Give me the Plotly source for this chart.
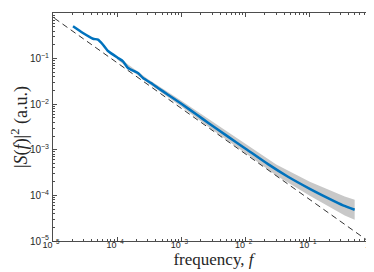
import plotly.graph_objects as go

# Mean power spectrum (blue)
freq = [2.05e-5, 2.93e-5, 4.20e-5, 5.02e-5, 6.01e-5, 7.19e-5, 1.03e-4, 1.231e-4,
        1.473e-4, 2.108e-4, 2.523e-4, 3.36e-4, 4.32e-4, 6.18e-4, 1.0e-3, 1.814e-3,
        2.596e-3, 5.32e-3, 1.0e-2, 2.233e-2, 4.575e-2, 0.1, 0.192, 0.329, 0.5]
power = [0.511, 0.364, 0.273, 0.260, 0.2017, 0.1468, 0.1031, 0.0873,
         0.0622, 0.0483, 0.0375, 0.0292, 0.02266, 0.01615, 0.01023, 5.64e-3,
         3.94e-3, 1.945e-3, 1.059e-3, 4.85e-4, 2.57e-4, 1.396e-4, 8.74e-5, 6.07e-5, 4.85e-5]

# Spread of individual spectra (gray band)
band_f = [1e-4, 3e-4, 1e-3, 3e-3, 1e-2, 3e-2, 0.1, 0.2, 0.35, 0.5]
band_hi = [0.1112, 0.0357, 0.01191, 4.18e-3, 1.33e-3, 4.78e-4, 1.99e-4, 1.303e-4, 9.42e-5, 8.04e-5]
band_lo = [0.0955, 0.0291, 8.79e-3, 2.79e-3, 8.43e-4, 2.74e-4, 9.79e-5, 5.53e-5, 3.61e-5, 2.93e-5]

# 1/f reference line (dashed)
ref_f = [1.05e-5, 0.81]
ref_S = [0.77, 1.0e-5]

tick_vals = [1e-5, 1e-4, 1e-3, 1e-2, 1e-1, 1e0]
tick_text = ["10<sup>\u22125</sup>", "10<sup>\u22124</sup>", "10<sup>\u22123</sup>",
             "10<sup>\u22122</sup>", "10<sup>\u22121</sup>", "10<sup>0</sup>"]
minor_vals = [m * 10.0 ** e for e in range(-5, 0) for m in range(2, 10)]

fig = go.Figure()
fig.add_trace(go.Scatter(x=band_f, y=band_lo, mode="lines", line=dict(width=0, color="#c8c8c8"),
                         showlegend=False, hoverinfo="skip"))
fig.add_trace(go.Scatter(x=band_f, y=band_hi, mode="lines", line=dict(width=0, color="#c8c8c8"),
                         fill="tonexty", fillcolor="#c8c8c8", showlegend=False, hoverinfo="skip"))
fig.add_trace(go.Scatter(x=ref_f, y=ref_S, mode="lines",
                         line=dict(color="black", width=0.8, dash="6px,4px"), showlegend=False))
fig.add_trace(go.Scatter(x=freq, y=power, mode="lines", line_shape="spline",
                         line=dict(color="#0072BD", width=2.5, smoothing=0.5), showlegend=False))

axis_common = dict(
    type="log", showgrid=False, zeroline=False, showline=True, linecolor="#4d4d4d", linewidth=1,
    mirror="ticks", ticks="inside", ticklen=4, tickwidth=0.8, tickcolor="#4d4d4d",
    tickvals=tick_vals, ticktext=tick_text, automargin=False,
    minor=dict(ticks="inside", ticklen=2, tickwidth=0.6, tickcolor="#4d4d4d", tickvals=minor_vals, showgrid=False),
)

fig.update_xaxes(**axis_common, range=[-5, 0], ticklabelstandoff=-5, ticklabelshift=-2,
                 tickfont=dict(family="Liberation Sans, Arial, sans-serif", size=9, color="#262626"),
                 title=dict(text="frequency, <i>f</i>", standoff=0,
                            font=dict(family="Liberation Serif, DejaVu Serif, serif", size=17, color="#262626")))
fig.update_yaxes(**axis_common, range=[-5, 0], ticklabelstandoff=1,
                 tickfont=dict(family="Liberation Sans, Arial, sans-serif", size=10, color="#262626"),
                 title=dict(text="|<i>S</i>(<i>f</i>)|<sup>2</sup> (a.u.)", standoff=2,
                            font=dict(family="Liberation Serif, DejaVu Serif, serif", size=18, color="#262626")))

fig.update_layout(width=374, height=272, margin=dict(l=45, r=8, t=5, b=39, autoexpand=False),
                  plot_bgcolor="white", paper_bgcolor="white")

fig.write_html("out.html")
